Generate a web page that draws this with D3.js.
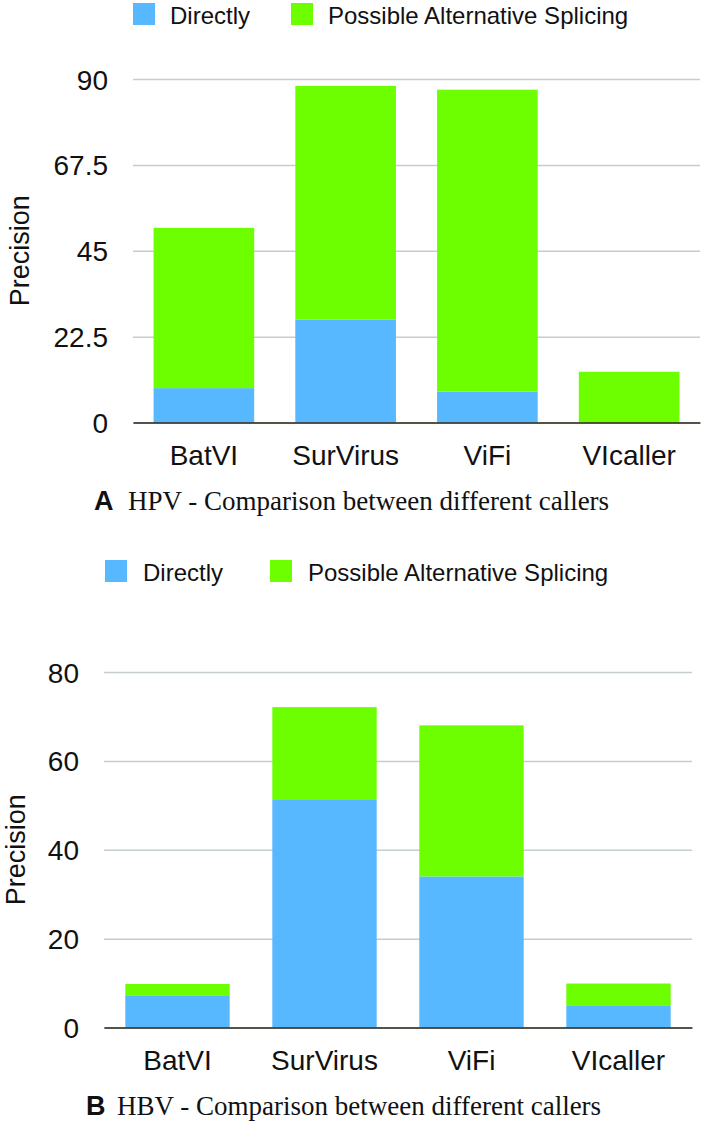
<!DOCTYPE html>
<html>
<head>
<meta charset="utf-8">
<script src="https://cdn.jsdelivr.net/npm/d3@7"></script>
<style>
  html, body { margin: 0; padding: 0; background: #fff; }
  svg { display: block; }
</style>
</head>
<body>
<svg id="chart" width="703" height="1125"></svg>
<script>
// ---- data ----
const categories = ["BatVI", "SurVirus", "ViFi", "VIcaller"];
const seriesNames = ["Directly", "Possible Alternative Splicing"];
const seriesColors = ["#57b7ff", "#6dff00"];

// Panel A: HPV
const hpvDirectly = [9.0, 27.0, 8.1, 0];
const hpvSplicing = [42.0, 61.2, 79.1, 13.3];
const hpvTicks = [0, 22.5, 45, 67.5, 90];
const hpvTickLabels = ["0", "22.5", "45", "67.5", "90"];

// Panel B: HBV
const hbvDirectly = [7.1, 51.2, 34.0, 5.0];
const hbvSplicing = [2.7, 20.9, 34.0, 4.9];
const hbvTicks = [0, 20, 40, 60, 80];
const hbvTickLabels = ["0", "20", "40", "60", "80"];

const yTitle = "Precision";

const svg = d3.select("#chart");
const SANS = "'Liberation Sans', Arial, Helvetica, sans-serif";
const SERIF = "'Liberation Serif', 'Times New Roman', serif";

function drawPanel(p) {
  const g = svg.append("g");
  const rows = categories.map((c, i) => ({ cat: c, Directly: p.directly[i], "Possible Alternative Splicing": p.splicing[i] }));
  const stacked = d3.stack().keys(seriesNames)(rows);

  const x = d3.scaleBand().domain(categories).range([p.x0, p.x1]).paddingInner(0.29).paddingOuter(0.145);
  const y = d3.scaleLinear().domain([0, p.ticks[p.ticks.length - 1]]).range([p.yBottom, p.yTop]);

  // gridlines + tick labels
  const yAxis = d3.axisLeft(y).tickValues(p.ticks)
    .tickFormat((d, i) => p.tickLabels[i])
    .tickSize(-(p.x1 - p.x0)).tickPadding(25);
  const ya = g.append("g").attr("transform", `translate(${p.x0},0)`).call(yAxis);
  ya.select(".domain").remove();
  ya.selectAll(".tick line").attr("stroke", "#c6cdcd").attr("stroke-width", 1.5);
  ya.selectAll(".tick text").attr("fill", "#111").attr("font-family", SANS).attr("font-size", 28).attr("dy", "0.36em");

  // bars
  g.selectAll("g.series").data(stacked).join("g").attr("class", "series")
    .attr("fill", (d, i) => seriesColors[i])
    .selectAll("rect").data(d => d).join("rect")
    .attr("x", d => x(d.data.cat))
    .attr("width", x.bandwidth())
    .attr("y", d => y(d[1]))
    .attr("height", d => Math.max(0, y(d[0]) - y(d[1])));

  // x axis
  const xAxis = d3.axisBottom(x).tickSize(0).tickSizeOuter(0).tickPadding(23);
  const xa = g.append("g").attr("transform", `translate(0,${p.yBottom})`).call(xAxis);
  xa.select(".domain").attr("stroke", "#2a2418").attr("stroke-width", 1.6);
  xa.selectAll(".tick text").attr("fill", "#111").attr("font-family", SANS).attr("font-size", 28);

  // y title
  g.append("text")
    .attr("transform", `translate(${p.titleX},${(p.yTop + p.yBottom) / 2}) rotate(-90)`)
    .attr("text-anchor", "middle")
    .attr("font-family", SANS).attr("font-size", 27).attr("fill", "#111")
    .text(yTitle);

  // legend
  const lg = g.append("g");
  seriesNames.forEach((name, i) => {
    lg.append("rect").attr("x", p.legend.sq[i]).attr("y", p.legend.y).attr("width", 22).attr("height", 22)
      .attr("fill", seriesColors[i]);
    lg.append("text").attr("x", p.legend.tx[i]).attr("y", p.legend.y + 20.5)
      .attr("font-family", SANS).attr("font-size", 24).attr("fill", "#111").text(name);
  });

  // caption
  const cap = g.append("text").attr("x", p.caption.x).attr("y", p.caption.y).attr("fill", "#111");
  cap.append("tspan").attr("font-family", SANS).attr("font-weight", "bold").attr("font-size", 27).text(p.caption.letter);
  cap.append("tspan").attr("x", p.caption.tx).attr("font-family", SERIF).attr("font-size", 27).text(p.caption.text);
}

drawPanel({
  directly: hpvDirectly, splicing: hpvSplicing, ticks: hpvTicks, tickLabels: hpvTickLabels,
  x0: 133, x1: 700, yTop: 79, yBottom: 422.5, titleX: 29,
  legend: { y: 3, sq: [133, 291], tx: [170, 328] },
  caption: { x: 94, y: 510, tx: 128, letter: "A", text: "HPV - Comparison between different callers" }
});

drawPanel({
  directly: hbvDirectly, splicing: hbvSplicing, ticks: hbvTicks, tickLabels: hbvTickLabels,
  x0: 104, x1: 692, yTop: 672, yBottom: 1027.5, titleX: 25,
  legend: { y: 560, sq: [105, 270], tx: [143, 308] },
  caption: { x: 86, y: 1115, tx: 117, letter: "B", text: "HBV - Comparison between different callers" }
});
</script>
</body>
</html>
